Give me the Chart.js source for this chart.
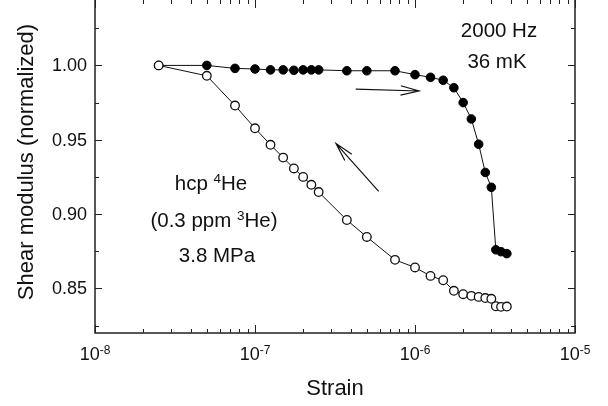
<!DOCTYPE html>
<html>
<head>
<meta charset="utf-8">
<script src="https://cdn.jsdelivr.net/npm/chart.js@4.4.1/dist/chart.umd.min.js"></script>
<style>
  html, body { margin: 0; padding: 0; background: #fff; }
  #wrap { width: 608px; height: 406px; }
</style>
</head>
<body>
<div id="wrap"><canvas id="chart"></canvas></div>
<script>
// strain amplitude, shared by both sweeps
const strain = [2.5e-8, 5e-8, 7.5e-8, 1e-7, 1.25e-7, 1.5e-7, 1.75e-7, 2e-7, 2.25e-7, 2.5e-7,
  3.75e-7, 5e-7, 7.5e-7, 1e-6, 1.25e-6, 1.5e-6, 1.75e-6, 2e-6, 2.25e-6, 2.5e-6,
  2.75e-6, 3e-6, 3.2e-6, 3.45e-6, 3.75e-6];
// increasing strain (filled)
const shearUp = [1.000, 1.000, 0.998, 0.9976, 0.997, 0.997, 0.9967, 0.997, 0.997, 0.997,
  0.9964, 0.9964, 0.9964, 0.9938, 0.992, 0.990, 0.985, 0.975, 0.964, 0.947,
  0.928, 0.918, 0.876, 0.8747, 0.8734];
// decreasing strain (open)
const shearDown = [1.000, 0.993, 0.973, 0.9577, 0.9466, 0.938, 0.9307, 0.925, 0.9197, 0.9148,
  0.8960, 0.8846, 0.8692, 0.8641, 0.8584, 0.8555, 0.8484, 0.8461, 0.845, 0.8443,
  0.8435, 0.843, 0.838, 0.8376, 0.8378];

const xDecades = [-8, -7, -6, -5];
const yTicks = [0.85, 0.90, 0.95, 1.00];
const yMinor = [0.825, 0.875, 0.925, 0.975, 1.025];

const FONT = "'Liberation Sans', Arial, sans-serif";

const toPts = ys => strain.map((x, i) => ({ x: x, y: ys[i] }));

// axes frame, inward ticks, labels and annotations
const framePlugin = {
  id: 'frame',
  afterDraw(chart) {
    const ctx = chart.ctx;
    const xs = chart.scales.x, ys = chart.scales.y;
    const a = chart.chartArea;
    ctx.save();
    ctx.strokeStyle = '#222';
    ctx.lineWidth = 1.5;
    ctx.beginPath();
    ctx.moveTo(a.left, a.top); ctx.lineTo(a.left, a.bottom);
    ctx.lineTo(a.right, a.bottom); ctx.lineTo(a.right, a.top);
    ctx.stroke();

    ctx.lineWidth = 1;
    ctx.beginPath();
    for (let d = -8; d <= -5; d++) {
      for (let m = 1; m <= 9; m++) {
        if (d === -5 && m > 1) break;
        const px = Math.round(xs.getPixelForValue(m * Math.pow(10, d))) + 0.5;
        const len = m === 1 ? 8 : 4;
        ctx.moveTo(px, a.bottom); ctx.lineTo(px, a.bottom - len);
        ctx.moveTo(px, a.top); ctx.lineTo(px, a.top + len);
      }
    }
    yTicks.concat(yMinor).forEach(v => {
      const py = Math.round(ys.getPixelForValue(v)) + 0.5;
      const len = yTicks.includes(v) ? 7 : 4;
      ctx.moveTo(a.left, py); ctx.lineTo(a.left + len, py);
      ctx.moveTo(a.right, py); ctx.lineTo(a.right - len, py);
    });
    ctx.stroke();

    ctx.fillStyle = '#111';
    // y tick labels
    ctx.font = '18px ' + FONT;
    ctx.textAlign = 'right';
    ctx.textBaseline = 'middle';
    yTicks.forEach(v => ctx.fillText(v.toFixed(2), a.left - 8, ys.getPixelForValue(v) + 1));

    // x tick labels 10^n
    xDecades.forEach(d => {
      const px = xs.getPixelForValue(Math.pow(10, d));
      drawRich(ctx, [{ t: '10' }, { t: String(d), sup: true }], px, a.bottom + 27, 18, 12);
    });

    // axis titles
    ctx.font = '22px ' + FONT;
    ctx.textAlign = 'center';
    ctx.textBaseline = 'middle';
    ctx.fillText('Strain', (a.left + a.right) / 2, 389);
    ctx.save();
    ctx.translate(27, 162);
    ctx.rotate(-Math.PI / 2);
    ctx.fillText('Shear modulus (normalized)', 0, 0);
    ctx.restore();

    // annotations
    ctx.font = '20.5px ' + FONT;
    ctx.textBaseline = 'alphabetic';
    ctx.fillText('2000 Hz', 499, 37);
    ctx.fillText('36 mK', 497, 68);
    drawRich(ctx, [{ t: 'hcp ' }, { t: '4', sup: true }, { t: 'He' }], 211, 190, 20.5, 13.5);
    drawRich(ctx, [{ t: '(0.3 ppm ' }, { t: '3', sup: true }, { t: 'He)' }], 214, 227, 20.5, 13.5);
    drawRich(ctx, [{ t: '3.8 MPa' }], 217, 262, 20.5, 13.5);

    // sweep direction arrows, in data coordinates
    arrow(ctx, xs.getPixelForValue(4.26e-7), ys.getPixelForValue(0.9841),
      xs.getPixelForValue(1.06e-6), ys.getPixelForValue(0.9828));
    arrow(ctx, xs.getPixelForValue(5.93e-7), ys.getPixelForValue(0.9153),
      xs.getPixelForValue(3.21e-7), ys.getPixelForValue(0.9474));
    ctx.restore();
  }
};

function drawRich(ctx, parts, cx, base, size, supSize) {
  let total = 0;
  parts.forEach(p => {
    ctx.font = (p.sup ? supSize : size) + 'px ' + FONT;
    p.w = ctx.measureText(p.t).width;
    total += p.w;
  });
  let x = cx - total / 2;
  ctx.textAlign = 'left';
  ctx.textBaseline = 'alphabetic';
  parts.forEach(p => {
    ctx.font = (p.sup ? supSize : size) + 'px ' + FONT;
    ctx.fillText(p.t, x, p.sup ? base - size * 0.33 : base);
    x += p.w;
  });
  ctx.textAlign = 'center';
}

function arrow(ctx, x0, y0, x1, y1) {
  const ang = Math.atan2(y1 - y0, x1 - x0);
  const hl = 19, spread = 0.25;
  ctx.strokeStyle = '#111';
  ctx.lineWidth = 1.2;
  ctx.beginPath();
  ctx.moveTo(x0, y0); ctx.lineTo(x1, y1);
  ctx.moveTo(x1 - hl * Math.cos(ang - spread), y1 - hl * Math.sin(ang - spread));
  ctx.lineTo(x1, y1);
  ctx.lineTo(x1 - hl * Math.cos(ang + spread), y1 - hl * Math.sin(ang + spread));
  ctx.stroke();
}

new Chart(document.getElementById('chart'), {
  type: 'scatter',
  data: {
    datasets: [
      {
        label: 'decreasing',
        data: toPts(shearDown),
        showLine: true,
        borderColor: '#111',
        borderWidth: 1,
        pointRadius: 4.3,
        pointBackgroundColor: '#fff',
        pointBorderColor: '#111',
        pointBorderWidth: 1.3,
        order: 0
      },
      {
        label: 'increasing',
        data: toPts(shearUp),
        showLine: true,
        borderColor: '#111',
        borderWidth: 1,
        pointRadius: 4.3,
        pointBackgroundColor: '#000',
        pointBorderColor: '#000',
        pointBorderWidth: 1,
        order: 1
      }
    ]
  },
  options: {
    responsive: true,
    maintainAspectRatio: false,
    animation: false,
    layout: { autoPadding: false, padding: { left: 95, right: 33, top: 0, bottom: 73 } },
    scales: {
      x: { type: 'logarithmic', min: 1e-8, max: 1e-5, display: false },
      y: { type: 'linear', min: 0.82, max: 1.044, display: false }
    },
    plugins: { legend: { display: false }, tooltip: { enabled: false } }
  },
  plugins: [framePlugin]
});
</script>
</body>
</html>
